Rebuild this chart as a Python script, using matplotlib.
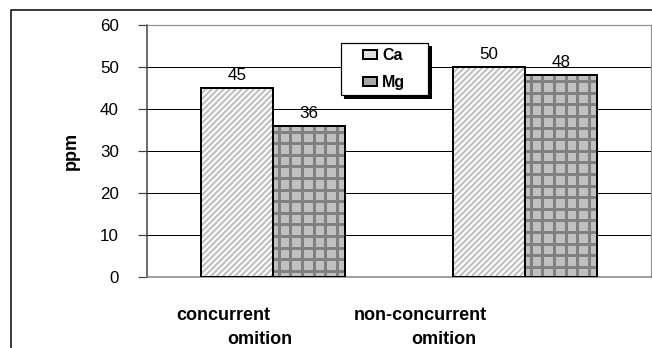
import numpy as np
import matplotlib.pyplot as plt
from matplotlib.patches import Patch, Rectangle
from matplotlib.collections import LineCollection

# data: ppm per omission type
categories = ["concurrent\nomition", "non-concurrent\nomition"]
ca_values = [45, 50]
mg_values = [36, 48]

W, H, DPI = 652, 348, 72
plt.rcParams['font.family'] = ['Liberation Sans', 'DejaVu Sans']

fig = plt.figure(figsize=(W / DPI, H / DPI), dpi=DPI)
fig.patch.set_facecolor('white')


def fig_xy(px, py):
    """pixel position (from top-left) -> figure fraction"""
    return px / W, 1 - py / H


# outer chart frame (runs off the right/bottom edge)
fig.add_artist(Rectangle((11 / W, -0.1), 1.2, 1 - 10 / H + 0.1,
                         transform=fig.transFigure, fill=False,
                         edgecolor='black', lw=1.5))

ax = fig.add_axes([147 / W, 71 / H, 504 / W, 252 / H])
ax.set_xlim(-0.5, 1.5)
ax.set_ylim(0, 60)
xu = 2 / 504    # data units per pixel
yu = 60 / 252

x = np.arange(len(categories))
bw = 0.286
ca_x = x - bw / 2
mg_x = x + bw / 2

ca_bars = ax.bar(ca_x, ca_values, bw, color='white', lw=0, zorder=2)
mg_bars = ax.bar(mg_x, mg_values, bw, color='#c0c0c0', lw=0, zorder=2)


def stripes(bar, step=6.0):
    x0, w, h = bar.get_x(), bar.get_width(), bar.get_height()
    hp = h / yu
    segs = [[(x0 + s * xu, 0), (x0 + (s + hp) * xu, h)]
            for s in np.arange(-hp, w / xu + step, step)]
    lc = LineCollection(segs, colors='#c0c0c0', lw=2.1, zorder=2.5)
    ax.add_collection(lc)
    lc.set_clip_path(bar)


def grid(bar, step=11.6):
    x0, w, h = bar.get_x(), bar.get_width(), bar.get_height()
    segs = [[(x0 + s * xu, 0), (x0 + s * xu, h)]
            for s in np.arange(step / 2, w / xu, step)]
    segs += [[(x0, h - s * yu), (x0 + w, h - s * yu)]
             for s in np.arange(step / 2, h / yu, step)]
    lc = LineCollection(segs, colors='#808080', lw=3, zorder=2.5)
    ax.add_collection(lc)
    lc.set_clip_path(bar)


for b in ca_bars:
    stripes(b)
for b in mg_bars:
    grid(b)

# black outlines on top of the patterns
ax.bar(ca_x, ca_values, bw, fill=False, edgecolor='black', lw=2, zorder=3)
ax.bar(mg_x, mg_values, bw, fill=False, edgecolor='black', lw=2, zorder=3)

for xs, vals in ((ca_x, ca_values), (mg_x, mg_values)):
    for xi, v in zip(xs, vals):
        ax.annotate(str(v), (xi, v), xytext=(0, 5), textcoords='offset points',
                    ha='center', va='bottom', fontsize=17, zorder=4)

ax.set_yticks(range(0, 61, 10))
ax.yaxis.grid(True, color='black', lw=1)
ax.set_axisbelow(True)
ax.tick_params(axis='y', labelsize=17, length=9, width=1.2, color='#404040', pad=19)
ax.set_xticks([])

for side in ('top', 'right'):
    ax.spines[side].set_color('#909090')
    ax.spines[side].set_linewidth(1.2)
ax.spines['left'].set_color('#404040')
ax.spines['left'].set_linewidth(1.5)
ax.spines['bottom'].set_color('#808080')
ax.spines['bottom'].set_linewidth(1.5)

fig.text(*fig_xy(71, 151), 'ppm', rotation=90, ha='center', va='center',
         fontsize=18, fontweight='bold')

# category labels, one text per wrapped line
label_pos = [((223, 315), (260, 340)), ((420, 315), (444, 340))]
for name, lines in zip(categories, label_pos):
    for part, (px, py) in zip(name.split('\n'), lines):
        fig.text(*fig_xy(px, py), part, ha='center', va='center',
                 fontsize=18, fontweight='bold')

# legend box with a solid drop shadow
bx, by = fig_xy(341, 95)
bw_f, bh_f = 87 / W, 52 / H
ax.add_patch(Rectangle((bx + 3 / W, by - 3 / H), bw_f, bh_f,
                       transform=fig.transFigure, color='black',
                       zorder=5, clip_on=False))
ax.add_patch(Rectangle((bx, by), bw_f, bh_f, transform=fig.transFigure,
                       facecolor='white', edgecolor='black', lw=1.2,
                       zorder=5.1, clip_on=False))

handles = [Patch(facecolor='#e0e0e0', edgecolor='black', lw=2, label='Ca'),
           Patch(facecolor='#a8a8a8', edgecolor='black', lw=2, label='Mg')]
leg = ax.legend(handles=handles, loc='upper left',
                bbox_to_anchor=fig_xy(363, 48), bbox_transform=fig.transFigure,
                frameon=False, prop={'weight': 'bold', 'size': 16},
                handlelength=0.85, handleheight=0.5, handletextpad=0.35,
                borderpad=0, labelspacing=0.75, borderaxespad=0)
leg.set_zorder(6)

fig.savefig('out.png', dpi=DPI)
